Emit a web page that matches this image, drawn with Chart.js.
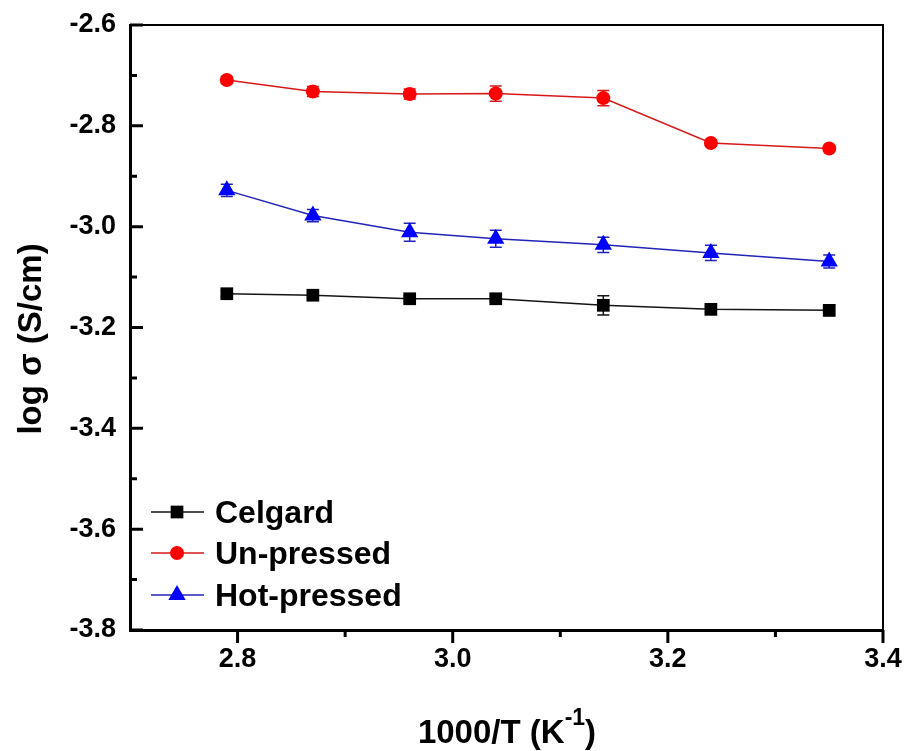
<!DOCTYPE html>
<html>
<head>
<meta charset="utf-8">
<title>Ionic conductivity vs 1000/T</title>
<script src="https://cdn.jsdelivr.net/npm/chart.js@4.4.1/dist/chart.umd.min.js"></script>
<style>
  html, body { margin: 0; padding: 0; background: #fff; }
  #wrap { width: 907px; height: 751px; }
</style>
</head>
<body>
<div id="wrap"><canvas id="c" width="907" height="751"></canvas></div>
<script>
// Inverse temperature, 1000/T (K^-1)
const invTemp = [2.79, 2.87, 2.96, 3.04, 3.14, 3.24, 3.35];

// log conductivity (S/cm) for each separator
const celgard    = [-3.133, -3.136, -3.143, -3.143, -3.156, -3.164, -3.166];
const unPressed  = [-2.709, -2.732, -2.737, -2.736, -2.745, -2.834, -2.845];
const hotPressed = [-2.928, -2.978, -3.011, -3.024, -3.036, -3.052, -3.069];

// Standard deviations (same units)
const celgardErr    = [0.005, 0.006, 0.006, 0.005, 0.019, 0.006, 0.010];
const unPressedErr  = [0.007, 0.010, 0.010, 0.015, 0.015, 0.006, 0.006];
const hotPressedErr = [0.012, 0.012, 0.018, 0.017, 0.015, 0.015, 0.013];

const seriesNames = ['Celgard', 'Un-pressed', 'Hot-pressed'];

// Axis ticks
const xMajorTicks = [2.8, 3.0, 3.2, 3.4];
const xMinorTicks = [2.9, 3.1, 3.3];
const yMajorTicks = [-3.8, -3.6, -3.4, -3.2, -3.0, -2.8, -2.6];
const yMinorTicks = [-3.7, -3.5, -3.3, -3.1, -2.9, -2.7];

const FONT = '"Liberation Sans", Arial, Helvetica, sans-serif';

const toPoints = (xs, ys) => xs.map((x, i) => ({ x: x, y: ys[i] }));

const styles = [
  { line: 'rgb(20,20,20)',  fill: '#000000', point: 'rect',     radius: 9,  err: celgardErr },
  { line: 'rgb(215,25,25)', fill: '#ff0000', point: 'circle',   radius: 7,  err: unPressedErr },
  { line: 'rgb(35,35,185)', fill: '#0000ff', point: 'triangle', radius: 10, err: hotPressedErr }
];
const values = [celgard, unPressed, hotPressed];

const datasets = values.map((v, k) => ({
  label: seriesNames[k],
  data: toPoints(invTemp, v),
  borderColor: styles[k].line,
  backgroundColor: styles[k].fill,
  pointBackgroundColor: styles[k].fill,
  pointBorderColor: styles[k].fill,
  pointBorderWidth: 0,
  pointStyle: styles[k].point,
  pointRadius: styles[k].radius,
  pointHoverRadius: styles[k].radius,
  borderWidth: 1.5,
  tension: 0,
  fill: false,
  showLine: true
}));

// Marker shapes drawn with the same geometry Chart.js uses for its point styles
function drawMarker(ctx, style, x, y, r, color) {
  ctx.save();
  ctx.fillStyle = color;
  ctx.beginPath();
  if (style === 'circle') {
    ctx.arc(x, y, r, 0, Math.PI * 2);
  } else if (style === 'rect') {
    const s = Math.SQRT1_2 * r;
    ctx.rect(x - s, y - s, 2 * s, 2 * s);
  } else if (style === 'triangle') {
    let a = 0;
    ctx.moveTo(x + Math.sin(a) * r, y - Math.cos(a) * r);
    a += 2 * Math.PI / 3;
    ctx.lineTo(x + Math.sin(a) * r, y - Math.cos(a) * r);
    a += 2 * Math.PI / 3;
    ctx.lineTo(x + Math.sin(a) * r, y - Math.cos(a) * r);
    ctx.closePath();
  }
  ctx.fill();
  ctx.restore();
}

// Vertical error bars with caps
const errorBars = {
  id: 'errorBars',
  beforeDatasetsDraw(chart) {
    const { ctx, scales: { x, y } } = chart;
    ctx.save();
    ctx.lineWidth = 1.5;
    values.forEach((v, k) => {
      ctx.strokeStyle = styles[k].line;
      v.forEach((val, i) => {
        const px = x.getPixelForValue(invTemp[i]);
        const top = y.getPixelForValue(val + styles[k].err[i]);
        const bot = y.getPixelForValue(val - styles[k].err[i]);
        const cap = 6;
        ctx.beginPath();
        ctx.moveTo(px, top); ctx.lineTo(px, bot);
        ctx.moveTo(px - cap, top); ctx.lineTo(px + cap, top);
        ctx.moveTo(px - cap, bot); ctx.lineTo(px + cap, bot);
        ctx.stroke();
      });
    });
    ctx.restore();
  }
};

// Frame, inward y ticks, outward x ticks, axis titles and legend
const decorations = {
  id: 'decorations',
  afterDraw(chart) {
    const { ctx, chartArea: a, scales: { x, y } } = chart;
    ctx.save();

    // thin top and right frame lines
    ctx.strokeStyle = '#000';
    ctx.lineWidth = 2;
    ctx.beginPath();
    ctx.moveTo(a.left, a.top); ctx.lineTo(a.right, a.top);
    ctx.lineTo(a.right, a.bottom);
    ctx.stroke();

    // y ticks point into the plot
    ctx.lineWidth = 3;
    ctx.beginPath();
    yMajorTicks.forEach(v => {
      const py = y.getPixelForValue(v);
      ctx.moveTo(a.left, py); ctx.lineTo(a.left + 13, py);
    });
    yMinorTicks.forEach(v => {
      const py = y.getPixelForValue(v);
      ctx.moveTo(a.left, py); ctx.lineTo(a.left + 7, py);
    });
    // x ticks point outward
    xMajorTicks.forEach(v => {
      const px = x.getPixelForValue(v);
      ctx.moveTo(px, a.bottom); ctx.lineTo(px, a.bottom + 13);
    });
    xMinorTicks.forEach(v => {
      const px = x.getPixelForValue(v);
      ctx.moveTo(px, a.bottom); ctx.lineTo(px, a.bottom + 7);
    });
    ctx.stroke();

    // x axis title with superscript
    ctx.fillStyle = '#000';
    ctx.textBaseline = 'alphabetic';
    ctx.textAlign = 'left';
    const big = 'bold 33px ' + FONT, small = 'bold 23px ' + FONT;
    const p1 = '1000/T (K', p2 = '-1', p3 = ')';
    ctx.font = big; const w1 = ctx.measureText(p1).width, w3 = ctx.measureText(p3).width;
    ctx.font = small; const w2 = ctx.measureText(p2).width;
    let tx = 507 - (w1 + w2 + w3) / 2;
    const base = 743;
    ctx.font = big; ctx.fillText(p1, tx, base); tx += w1;
    ctx.font = small; ctx.fillText(p2, tx, base - 18); tx += w2;
    ctx.font = big; ctx.fillText(p3, tx, base);

    // y axis title
    ctx.save();
    ctx.translate(41, 339);
    ctx.rotate(-Math.PI / 2);
    ctx.textAlign = 'center';
    ctx.font = 'bold 33px ' + FONT;
    ctx.fillText('log \u03c3 (S/cm)', 0, 0);
    ctx.restore();

    // legend
    const rows = [512, 553, 595];
    ctx.font = 'bold 32px ' + FONT;
    ctx.textAlign = 'left';
    seriesNames.forEach((name, k) => {
      const ry = rows[k];
      ctx.strokeStyle = styles[k].line;
      ctx.lineWidth = 1.5;
      ctx.beginPath();
      ctx.moveTo(151, ry); ctx.lineTo(204, ry);
      ctx.stroke();
      drawMarker(ctx, styles[k].point, 177, ry, styles[k].radius, styles[k].fill);
      ctx.fillStyle = '#000';
      ctx.fillText(name, 215, ry + 11);
    });

    ctx.restore();
  }
};

new Chart(document.getElementById('c'), {
  type: 'line',
  data: { datasets: datasets },
  options: {
    responsive: false,
    animation: false,
    events: [],
    layout: { padding: { top: 25, right: 24, left: 0, bottom: 0 } },
    plugins: { legend: { display: false }, tooltip: { enabled: false }, title: { display: false } },
    scales: {
      x: {
        type: 'linear',
        min: 2.7,
        max: 3.4,
        afterFit(scale) {
          scale.height = 121;
          scale.paddingLeft = 0;
          scale.paddingRight = 0;
        },
        afterBuildTicks(scale) { scale.ticks = xMajorTicks.map(v => ({ value: v })); },
        grid: { display: true, drawOnChartArea: false, drawTicks: false },
        border: { display: true, width: 3, color: '#000' },
        ticks: {
          padding: 13,
          color: '#000',
          font: { family: FONT, size: 27, weight: 'bold' },
          callback: v => Number(v).toFixed(1)
        }
      },
      y: {
        type: 'linear',
        min: -3.8,
        max: -2.6,
        afterFit(scale) {
          scale.width = 130;
          scale.paddingTop = 0;
          scale.paddingBottom = 0;
        },
        afterBuildTicks(scale) { scale.ticks = yMajorTicks.map(v => ({ value: v })); },
        grid: { display: true, drawOnChartArea: false, drawTicks: false },
        border: { display: true, width: 3, color: '#000' },
        ticks: {
          padding: 14,
          color: '#000',
          font: { family: FONT, size: 27, weight: 'bold' },
          callback: v => Number(v).toFixed(1)
        }
      }
    }
  },
  plugins: [errorBars, decorations]
});
</script>
</body>
</html>
